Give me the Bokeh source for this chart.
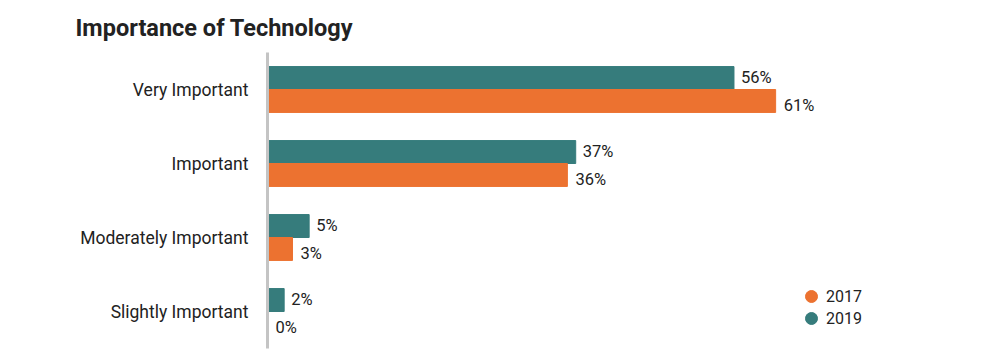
from bokeh.plotting import figure
from bokeh.models import ColumnDataSource, FactorRange, Legend, LegendItem
from bokeh.transform import dodge
from bokeh.embed import file_html
from bokeh.resources import INLINE
from bokeh.core.properties import value

categories = ["Very Important", "Important", "Moderately Important", "Slightly Important"]
values_2019 = [56, 37, 5, 2]
values_2017 = [61, 36, 3, 0]
labels_2019 = [f"{v}%" for v in values_2019]
labels_2017 = [f"{v}%" for v in values_2017]
title_text = "Importance of Technology"

TEAL = "#367c7c"
ORANGE = "#ec7230"
FONT = "Roboto"

src = ColumnDataSource(dict(cat=categories, v19=values_2019, v17=values_2017,
                            l19=labels_2019, l17=labels_2017))

W = 992
H = 350
LEFT = 267
TOP = 52
BOTTOM = 2
PX_PER_PCT = 8.33

p = figure(width=W, height=H, output_backend="svg", toolbar_location=None,
           y_range=FactorRange(factors=list(reversed(categories)), range_padding=0),
           x_range=(0, (W - LEFT) / PX_PER_PCT),
           min_border_left=LEFT, min_border_right=0, min_border_top=TOP,
           min_border_bottom=BOTTOM)

p.hbar(y=dodge("cat", 0.155, range=p.y_range), right="v19", left=0, height=0.31,
       color=TEAL, source=src)
p.hbar(y=dodge("cat", -0.155, range=p.y_range), right="v17", left=0, height=0.31,
       color=ORANGE, source=src)

p.text(x="v19", y=dodge("cat", 0.167, range=p.y_range), text="l19", source=src,
       x_offset=7, text_baseline="middle", text_font=value(FONT),
       text_font_size="16.5px", text_color="#222222")
p.text(x="v17", y=dodge("cat", -0.21, range=p.y_range), text="l17", source=src,
       x_offset=8, text_baseline="middle", text_font=value(FONT),
       text_font_size="16.5px", text_color="#222222")

# legend markers (placed outside the visible range)
r17 = p.scatter(x=[-100], y=["Slightly Important"], marker="circle", size=12, color=ORANGE)
r19 = p.scatter(x=[-100], y=["Slightly Important"], marker="circle", size=12, color=TEAL)
common = dict(padding=0, margin=0, glyph_width=30, glyph_height=30,
              label_height=14, spacing=0, label_standoff=0,
              label_text_font=FONT, label_text_font_size="16px",
              label_text_color="#222222",
              border_line_color=None, background_fill_alpha=0)
leg17 = Legend(items=[LegendItem(label="2017", renderers=[r17])], location=(529, 37), **common)
leg19 = Legend(items=[LegendItem(label="2019", renderers=[r19])], location=(529, 15), **common)
p.add_layout(leg17, "center")
p.add_layout(leg19, "center")

p.title.text = title_text
p.title.text_font = FONT
p.title.text_font_size = "23.5px"
p.title.text_font_style = "bold"
p.title.text_color = "#222222"
p.title.align = "left"
p.title.offset = -192
p.title.standoff = 22

p.xaxis.visible = False
p.xgrid.grid_line_color = None
p.ygrid.grid_line_color = None
p.outline_line_color = None
p.yaxis.axis_line_color = "#c4c4c4"
p.yaxis.axis_line_width = 3
p.yaxis.major_tick_line_color = None
p.yaxis.minor_tick_line_color = None
p.yaxis.major_label_standoff = 13
p.yaxis.major_label_text_font = FONT
p.yaxis.major_label_text_font_size = "17.5px"
p.yaxis.major_label_text_color = "#222222"

open("out.html", "w").write(file_html(p, INLINE))
